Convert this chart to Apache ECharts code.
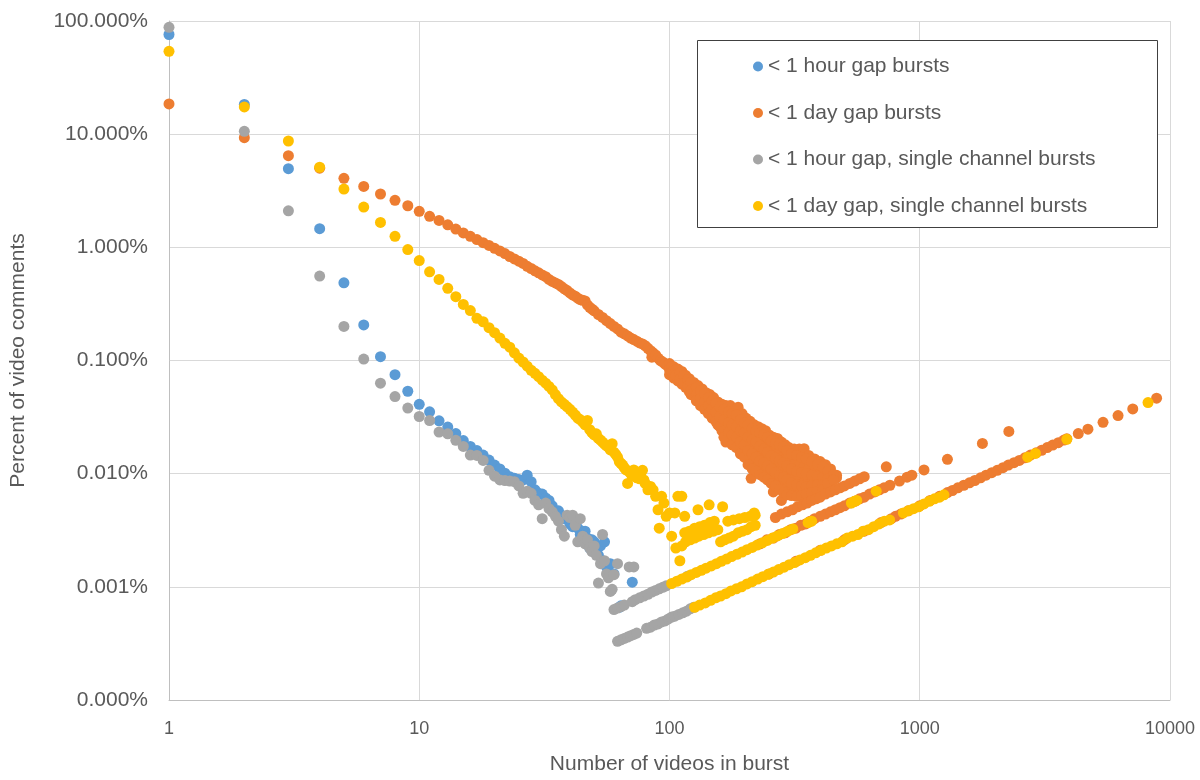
<!DOCTYPE html>
<html>
<head>
<meta charset="utf-8">
<script src="https://cdn.jsdelivr.net/npm/echarts@6/dist/echarts.min.js"></script>
<style>
html,body{margin:0;padding:0;background:#fff;}
#chart{width:1200px;height:780px;}
</style>
</head>
<body>
<div id="chart"></div>
<script>
// ---- Tick labels / names ----
const seriesNames = ['< 1 hour gap bursts', '< 1 day gap bursts', '< 1 hour gap, single channel bursts', '< 1 day gap, single channel bursts'];
const xTitle = 'Number of videos in burst';
const yTitle = 'Percent of video comments';

// ---- Data: [videos in burst, percent of video comments] ----
const blueMain = [[1,76],[2,18.3],[3,4.95],[4,1.46],[5,0.486],[6,0.206],[7,0.108],[8,0.075],[9,0.0535],[10,0.041],[11,0.0352],[12,0.0293],[13,0.0258],[14,0.0226],[15,0.0196],[16,0.0174],[17,0.016],[18,0.0146],[19,0.0132],[20,0.0119],[21,0.011],[22,0.0101],[23,0.0094],[24,0.0091],[25,0.0089],[26,0.0088],[27,0.0097],[28,0.0085],[29,0.0072],[30,0.0067],[31,0.0066],[32,0.0061],[33,0.0058],[34,0.0052],[35,0.0045],[36,0.0047],[37,0.0043],[38,0.004],[39,0.0042],[40,0.0036],[41,0.0034],[42,0.0038],[43,0.0033],[44,0.0029],[45,0.0031],[46,0.0031],[47,0.0027],[48,0.0022],[49,0.0026],[50,0.0025],[51,0.0021],[52,0.0019],[53,0.0023],[54,0.0017],[55,0.0025],[56,0.0015],[57,0.0014],[58,0.0016],[60,0.0013],[63,0.00066],[64,0.00068],[71,0.0011]];

const orangeMain = [[1,18.5],[2,9.3],[3,6.45],[4,5.0],[5,4.07],[6,3.45],[7,2.96],[8,2.6],[9,2.33],[10,2.08],[11,1.88],[12,1.73],[13,1.58],[14,1.45],[15,1.34],[16,1.25],[17,1.17],[18,1.1],[19,1.04],[20,0.98],[21,0.93],[22,0.88],[23,0.83],[24,0.79],[25,0.755],[26,0.72],[27,0.68],[28,0.65],[29,0.62],[30,0.595],[31,0.57],[32,0.55],[33,0.52],[34,0.5],[35,0.485],[36,0.47],[37,0.45],[38,0.43],[39,0.415],[40,0.395],[41,0.38],[42,0.37],[43,0.355],[44,0.345],[45,0.34],[46,0.336],[47,0.31],[48,0.295],[49,0.285],[50,0.275],[52,0.255],[54,0.24],[56,0.225],[58,0.212],[60,0.2],[62,0.19],[64,0.178],[66,0.172],[68,0.165],[70,0.158],[72,0.153],[74,0.148],[76,0.143],[78,0.14],[80,0.135],[82,0.128],[84,0.122],[85,0.107],[86,0.117],[88,0.112],[90,0.105],[92,0.1],[94,0.097],[96,0.093],[98,0.09]];
const orangeBand = [[100,0.094],[100,0.083],[100,0.075],[104,0.088],[104,0.078],[104,0.07],[108,0.084],[108,0.072],[108,0.066],[112,0.08],[112,0.07],[112,0.062],[116,0.074],[116,0.064],[116,0.058],[120,0.069],[120,0.06],[120,0.053],[125,0.064],[125,0.056],[125,0.049],[130,0.06],[130,0.052],[130,0.045],[135,0.056],[135,0.048],[135,0.041],[140,0.052],[140,0.045],[140,0.038],[145,0.05],[145,0.042],[145,0.035],[150,0.047],[150,0.039],[150,0.032],[156,0.043],[156,0.036],[156,0.03],[156,0.027],[162,0.041],[162,0.034],[162,0.028],[162,0.024],[168,0.04],[168,0.032],[168,0.026],[168,0.019],[175,0.04],[175,0.03],[175,0.025],[175,0.021],[182,0.037],[182,0.031],[182,0.024],[182,0.019],[188,0.0387],[188,0.028],[188,0.022],[188,0.018],[195,0.034],[195,0.027],[195,0.021],[195,0.016],[202,0.031],[202,0.026],[202,0.02],[202,0.015],[210,0.029],[210,0.024],[210,0.018],[210,0.0135],[212,0.0091],[218,0.027],[218,0.022],[218,0.017],[218,0.0125],[226,0.026],[226,0.021],[226,0.016],[226,0.012],[234,0.025],[234,0.019],[234,0.0145],[234,0.011],[242,0.024],[242,0.018],[242,0.014],[242,0.0105],[250,0.022],[250,0.017],[250,0.013],[250,0.0095],[260,0.021],[260,0.016],[260,0.012],[260,0.0088],[260,0.0069],[270,0.0205],[270,0.015],[270,0.011],[270,0.0082],[280,0.019],[280,0.014],[280,0.0105],[280,0.0078],[280,0.0058],[290,0.018],[290,0.0135],[290,0.0098],[290,0.0072],[300,0.017],[300,0.0128],[300,0.0095],[300,0.007],[315,0.0165],[315,0.0122],[315,0.009],[315,0.0068],[330,0.0165],[330,0.0118],[330,0.0088],[330,0.0068],[345,0.0166],[345,0.0115],[345,0.0085],[345,0.007],[360,0.0145],[360,0.011],[360,0.0085],[360,0.0072],[380,0.0135],[380,0.0105],[380,0.0085],[380,0.0075],[400,0.0128],[400,0.0102],[400,0.0086],[400,0.0078],[420,0.012],[420,0.0098],[420,0.0087],[440,0.011],[440,0.0095],[440,0.0088],[465,0.0097],[465,0.0092]];
const orangeBandFill = [[102,0.088],[102,0.079],[106,0.083],[106,0.074],[110,0.078],[110,0.068],[114,0.073],[114,0.063],[118,0.068],[118,0.059],[122,0.064],[122,0.055],[122,0.05],[128,0.058],[128,0.05],[128,0.044],[133,0.054],[133,0.046],[133,0.04],[138,0.051],[138,0.043],[138,0.037],[143,0.047],[143,0.04],[143,0.034],[148,0.044],[148,0.037],[148,0.031],[153,0.042],[153,0.035],[153,0.029],[159,0.039],[159,0.032],[159,0.026],[165,0.037],[165,0.03],[165,0.024],[165,0.021],[172,0.035],[172,0.028],[172,0.023],[178,0.034],[178,0.027],[178,0.022],[178,0.018],[185,0.033],[185,0.026],[185,0.021],[185,0.017],[192,0.03],[192,0.024],[192,0.019],[192,0.015],[199,0.028],[199,0.023],[199,0.018],[199,0.014],[206,0.027],[206,0.021],[206,0.016],[206,0.012],[214,0.025],[214,0.02],[214,0.015],[214,0.011],[222,0.024],[222,0.019],[222,0.014],[222,0.0105],[230,0.023],[230,0.0175],[230,0.013],[230,0.0098],[238,0.022],[238,0.0165],[238,0.0125],[238,0.0093],[246,0.021],[246,0.0155],[246,0.0118],[246,0.0088],[255,0.0195],[255,0.0145],[255,0.011],[255,0.0082],[265,0.0185],[265,0.0138],[265,0.0103],[265,0.0078],[275,0.018],[275,0.013],[275,0.0097],[275,0.0073],[285,0.0172],[285,0.0125],[285,0.0093],[285,0.0068],[295,0.016],[295,0.0118],[295,0.0088],[295,0.0065],[307,0.015],[307,0.011],[307,0.0083],[307,0.0064],[322,0.0145],[322,0.0105],[322,0.008],[322,0.0063],[337,0.014],[337,0.0102],[337,0.0078],[337,0.0064],[352,0.0135],[352,0.01],[352,0.0077],[352,0.0066],[370,0.0128],[370,0.0097],[370,0.0078],[370,0.0068],[390,0.012],[390,0.0095],[390,0.008],[390,0.007],[410,0.0115],[410,0.0093],[410,0.008],[410,0.0072],[430,0.0105],[430,0.009],[430,0.0082],[452,0.0098],[452,0.0088]];
const orangeTriples = [[265,0.0041],[280,0.0044],[295,0.0046],[310,0.0048],[325,0.0051],[340,0.0053],[355,0.0055],[370,0.0058],[385,0.006],[400,0.0062],[420,0.0066],[440,0.0069],[460,0.0072],[480,0.0075],[500,0.0078],[525,0.0082],[550,0.0086],[575,0.009],[600,0.0094],[735,0.0115]];
const orangePairs = [[230,0.0024],[245,0.0026],[260,0.0027],[275,0.0029],[290,0.003],[305,0.0032],[320,0.0033],[335,0.0035],[350,0.0036],[365,0.0038],[380,0.004],[400,0.0042],[420,0.0044],[440,0.0046],[460,0.0048],[480,0.005],[500,0.0052],[525,0.0055],[550,0.0057],[575,0.006],[600,0.0062],[630,0.0066],[660,0.0069],[690,0.0072],[720,0.0075],[760,0.0079],[830,0.0086],[890,0.0093],[930,0.0097],[1040,0.0108],[1290,0.0134],[1780,0.0185],[2270,0.0236]];
const orangeSingles = [[250,0.0013],[320,0.00168],[400,0.0021],[500,0.0026],[600,0.0031],[700,0.0037],[770,0.004],[800,0.0042],[840,0.0044],[900,0.0047],[1000,0.0052],[1100,0.0058],[1200,0.0063],[1290,0.0068],[1350,0.0071],[1420,0.0075],[1500,0.0079],[1580,0.0083],[1660,0.0087],[1750,0.0092],[1840,0.0097],[1940,0.0102],[2040,0.0107],[2150,0.0113],[2260,0.0119],[2380,0.0125],[2500,0.0131],[2630,0.0138],[2770,0.0146],[2920,0.0153],[3070,0.0161],[3230,0.017],[3400,0.0179],[3580,0.0188],[3770,0.0198],[3870,0.0203],[4300,0.0226],[4700,0.0247],[5400,0.0284],[6200,0.0326],[7100,0.0373],[8840,0.0465]];

const grayMain = [[1,88],[2,10.6],[3,2.1],[4,0.557],[5,0.2],[6,0.103],[7,0.063],[8,0.048],[9,0.038],[10,0.032],[11,0.0295],[12,0.0233],[13,0.0225],[14,0.0197],[15,0.0174],[16,0.0146],[17,0.0145],[18,0.0131],[19,0.0107],[20,0.0095],[21,0.0088],[22,0.0087],[23,0.0086],[24,0.0085],[25,0.0078],[26,0.0067],[27,0.007],[28,0.0067],[29,0.0058],[30,0.0053],[31,0.004],[32,0.0055],[33,0.0049],[34,0.0046],[35,0.0042],[36,0.0038],[37,0.0032],[38,0.0028],[39,0.0043],[40,0.0041],[41,0.0043],[42,0.0035],[43,0.0025],[44,0.004],[45,0.0028],[46,0.0024],[47,0.0026],[48,0.0022],[49,0.00205],[50,0.0023],[51,0.0019],[52,0.00108],[53,0.0016],[54,0.0029],[55,0.0017],[56,0.0013],[57,0.0012],[58,0.00091],[59,0.00095],[60,0.00128],[62,0.0016],[69,0.0015],[72,0.0015]];
const grayPairs = [[60,0.00063],[62,0.00065],[64,0.00067],[66,0.00069],[71,0.00074],[73,0.00077],[76,0.0008],[79,0.00083],[82,0.00086],[85,0.0009],[88,0.00093],[91,0.00096],[94,0.00099],[97,0.00102],[118,0.00124]];
const graySingles = [[62,0.00033],[64,0.00034],[66,0.00035],[68,0.00036],[70,0.00037],[72,0.00038],[74,0.00039],[81,0.00043],[84,0.00044],[87,0.00046],[90,0.00047],[93,0.00049],[96,0.0005],[99,0.00052],[102,0.00054],[105,0.00055],[109,0.00057],[113,0.00059],[117,0.00061],[121,0.00064],[125,0.00066]];

const yellowMain = [[1,54],[2,17.4],[3,8.7],[4,5.1],[5,3.27],[6,2.27],[7,1.66],[8,1.25],[9,0.955],[10,0.764],[11,0.608],[12,0.52],[13,0.434],[14,0.366],[15,0.313],[16,0.276],[17,0.236],[18,0.22],[19,0.195],[20,0.176],[21,0.158],[22,0.142],[23,0.131],[24,0.117],[25,0.105],[26,0.097],[27,0.089],[28,0.082],[29,0.077],[30,0.072],[31,0.067],[32,0.063],[33,0.059],[34,0.055],[35,0.05],[36,0.046],[37,0.043],[38,0.041],[39,0.039],[40,0.037],[41,0.035],[42,0.033],[43,0.031],[44,0.03],[45,0.0285],[46,0.027],[47,0.0295],[48,0.0245],[49,0.023],[50,0.022],[51,0.0225],[52,0.0205],[53,0.0198],[54,0.019],[55,0.0182],[56,0.0176],[57,0.0172],[58,0.0162],[59,0.0184],[60,0.0155],[61,0.0148],[62,0.014],[63,0.0128],[64,0.0123],[65,0.0119],[66,0.0113],[67,0.0108],[68,0.0082],[69,0.0105],[70,0.01],[71,0.0096],[72,0.0108],[74,0.0092],[76,0.009],[78,0.0107],[79,0.0088],[80,0.0082],[82,0.0072],[84,0.0077],[86,0.0072],[88,0.0063],[90,0.0048],[91,0.0033],[93,0.0063],[95,0.0055],[97,0.0042],[100,0.0045],[102,0.0028],[105,0.0045],[108,0.0063],[112,0.0063],[115,0.0042],[130,0.0048]];
const yellowScatter = [[106,0.0022],[110,0.0017],[112,0.0023],[116,0.0025],[121,0.0026],[126,0.0027],[131,0.0028],[137,0.0029],[143,0.003],[150,0.0031],[156,0.0032],[115,0.003],[120,0.0031],[126,0.0033],[132,0.0034],[138,0.0035],[145,0.0037],[151,0.0038],[144,0.0053],[163,0.0051],[160,0.0025],[166,0.0026],[173,0.0027],[180,0.0028],[188,0.003],[196,0.0031],[204,0.0032],[212,0.0034],[220,0.0035],[171,0.0038],[180,0.0039],[190,0.004],[200,0.0041],[210,0.0042],[220,0.0043],[218,0.0045]];
const yellowPairs = [[102,0.00107],[107,0.00112],[112,0.00117],[117,0.00122],[122,0.00128],[128,0.00134],[134,0.0014],[140,0.00146],[147,0.00153],[154,0.0016],[161,0.00168],[169,0.00176],[177,0.00185],[186,0.00194],[195,0.00203],[204,0.00213],[214,0.00223],[224,0.00234],[235,0.00245],[246,0.00257],[258,0.0027],[270,0.00282],[283,0.00296],[297,0.0031],[311,0.00325],[358,0.0037],[370,0.0038],[533,0.0055],[548,0.0057],[560,0.0058],[670,0.007]];
const yellowSingles = [[126,0.00066],[132,0.00069],[139,0.00072],[146,0.00076],[153,0.0008],[160,0.00083],[168,0.00087],[176,0.00092],[185,0.00096],[194,0.001],[204,0.00106],[214,0.00111],[225,0.00117],[236,0.00123],[248,0.00129],[260,0.00135],[273,0.00142],[287,0.00149],[301,0.00157],[316,0.00164],[332,0.00173],[349,0.00181],[366,0.0019],[384,0.002],[403,0.0021],[423,0.0022],[444,0.0023],[466,0.0024],[489,0.0025],[513,0.0027],[539,0.0028],[566,0.0029],[594,0.0031],[624,0.0032],[655,0.0034],[688,0.0036],[722,0.0038],[758,0.0039],[860,0.0045],[900,0.0047],[945,0.0049],[990,0.0051],[1040,0.0054],[1090,0.0057],[1145,0.006],[1200,0.0062],[1250,0.0065],[2700,0.014],[2900,0.0151],[3870,0.0201],[8170,0.0425]];

const colors = ['#5B9BD5', '#ED7D31', '#A5A5A5', '#FFC000'];
const seriesData = [
  blueMain,
  orangeMain.concat(orangeBand, orangeBandFill, orangeTriples, orangePairs, orangeSingles),
  grayMain.concat(grayPairs, graySingles),
  yellowMain.concat(yellowScatter, yellowPairs, yellowSingles)
];

const chart = echarts.init(document.getElementById('chart'), null, {renderer: 'canvas'});
const textColor = '#595959';
const font = "'Liberation Sans', Arial, sans-serif";

chart.setOption({
  backgroundColor: '#ffffff',
  animation: false,
  color: colors,
  grid: {left: 168, right: 30, top: 21, bottom: 75, containLabel: false},
  xAxis: {
    type: 'log', logBase: 10, min: 1, max: 10000, splitNumber: 4,
    name: xTitle, nameLocation: 'middle', nameGap: 54,
    nameTextStyle: {color: textColor, fontSize: 21, fontFamily: font},
    axisLine: {show: true, lineStyle: {color: '#BFBFBF', width: 1}},
    axisTick: {show: false},
    minorTick: {show: false},
    splitLine: {show: true, lineStyle: {color: '#D9D9D9', width: 1}},
    axisLabel: {color: textColor, fontSize: 18, fontFamily: font, margin: 20,
      formatter: v => String(Math.round(v))}
  },
  yAxis: {
    type: 'log', logBase: 10, min: 0.0001, max: 100, splitNumber: 6,
    name: yTitle, nameLocation: 'middle', nameGap: 140, nameRotate: 90,
    nameTextStyle: {color: textColor, fontSize: 21, fontFamily: font},
    axisLine: {show: true, lineStyle: {color: '#BFBFBF', width: 1}},
    axisTick: {show: false},
    minorTick: {show: false},
    splitLine: {show: true, lineStyle: {color: '#D9D9D9', width: 1}},
    axisLabel: {color: textColor, fontSize: 21, fontFamily: font, margin: 21,
      formatter: v => Number(v).toFixed(3) + '%'}
  },
  legend: {
    show: true, orient: 'vertical', left: 753, top: 56, padding: 0,
    itemWidth: 10, itemHeight: 10, itemGap: 25.5, z: 10,
    icon: 'circle',
    textStyle: {color: textColor, fontSize: 21, fontFamily: font, lineHeight: 20},
    data: seriesNames
  },
  graphic: [{
    type: 'rect', z: 5,
    shape: {x: 697.5, y: 40.5, width: 460, height: 187},
    style: {fill: '#ffffff', stroke: '#404040', lineWidth: 1}
  }],
  series: seriesNames.map((name, i) => ({
    name: name,
    type: 'scatter',
    symbol: 'circle',
    symbolSize: 11,
    data: seriesData[i],
    itemStyle: {color: colors[i], opacity: 1},
    emphasis: {disabled: true},
    z: 2 + i
  }))
});
</script>
</body>
</html>
